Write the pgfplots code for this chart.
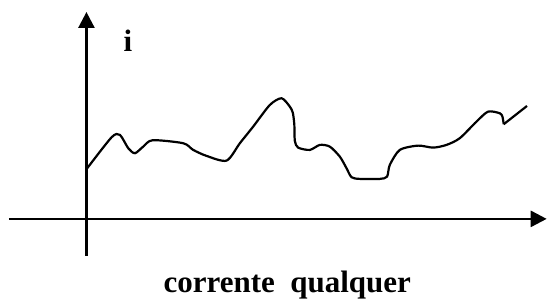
\documentclass[border=0pt]{standalone}
\usepackage{pgfplots}
\pgfplotsset{compat=1.18}
\usepackage{fontspec}
\setmainfont{Liberation Serif}
\usetikzlibrary{arrows.meta}
\begin{document}
\begin{tikzpicture}
\begin{axis}[
  scale only axis, width=538pt, height=244pt,
  xmin=-77.5, xmax=460.5, ymin=-37, ymax=207,
  axis lines=middle, ticks=none, clip=false,
  axis line style={line width=2.6pt, -{Triangle[length=16pt,width=16pt]}},
]
\path (axis cs:-86.5,219) rectangle (axis cs:461.5,-82);
\addplot[black, line width=2.2pt, smooth, tension=0.45] coordinates {
(0.8,50.7) (25.2,81.7) (33.5,84) (41.8,70.7) (48.5,65.7) (56.8,72.3) (66.2,78.7)
(96.8,75.7) (106.8,69) (120.2,63) (140.2,58.3) (153.5,75.7) (166.8,92.3)
(183.5,114) (195.2,120.7) (203.5,112.3) (206.5,106) (208,94) (208.5,78)
(211.8,71.3) (223.5,69) (233.5,74) (243.5,72.3) (253.5,62.3) (260.2,50.7)
(265.2,41.7) (273.5,40) (293.5,40) (300.8,42.3) (303.5,54) (313.5,69)
(331.8,73.3) (346.8,71.3) (360.2,74) (373.5,80.7) (390.2,97.3) (401.8,107.3)
(413.5,105.7) (416.2,102.3) (417.5,94.7)
};
\addplot[black, line width=2.2pt] coordinates {(417.5,94.7) (440.8,113)};
\node[anchor=base, font=\fontsize{31}{37}\selectfont\bfseries] at (axis cs:41.5,167) {i};
\node[anchor=base, font=\fontsize{31}{37}\selectfont\bfseries] at (axis cs:201,-74) {corrente\hspace{0.5em}qualquer};
\end{axis}
\end{tikzpicture}
\end{document}
